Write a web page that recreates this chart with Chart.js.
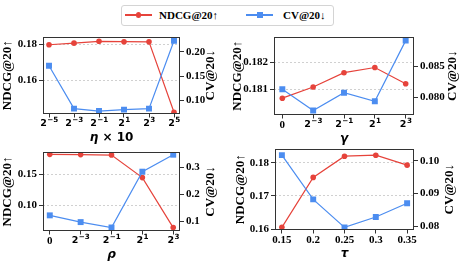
<!DOCTYPE html>
<html><head><meta charset="utf-8">
<script src="https://cdn.jsdelivr.net/npm/chart.js@4"></script>
<style>
html,body{margin:0;padding:0;background:#fff;}
#wrap{position:relative;width:463px;height:265px;overflow:hidden;background:#fff;}
canvas{position:absolute;}
.lg{position:absolute;}
#legend{left:121px;top:5px;width:213px;height:21px;border:1px solid #d4d4d4;border-radius:3px;box-sizing:border-box;}
.lt{font:bold 11px "Liberation Serif",serif;color:#000;line-height:20px;top:5px;height:20px;white-space:nowrap;}
</style></head><body>
<div id="wrap">
<canvas id="c1"></canvas>
<canvas id="c2"></canvas>
<canvas id="c3"></canvas>
<canvas id="c4"></canvas>
<div id="legend" class="lg"></div>
<div class="lg" style="left:125px;top:14.4px;width:27px;height:1.3px;background:#e6433b"></div>
<div class="lg" style="left:135.5px;top:12px;width:5.6px;height:5.6px;border-radius:50%;background:#e6433b"></div>
<div class="lg lt" style="left:159px">NDCG@20↑</div>
<div class="lg" style="left:246px;top:14.4px;width:27px;height:1.3px;background:#4c8df0"></div>
<div class="lg" style="left:257px;top:12px;width:6px;height:6px;background:#4c8df0"></div>
<div class="lg lt" style="left:283px">CV@20↓</div>
</div>
<script>
const RED = '#e6433b', BLUE = '#4c8df0';

// ---- Panel 1: eta x 10 ----
const etaLabels = ['2^-5','2^-3','2^-1','2^1','2^3','2^5'];
const etaNdcg = [0.1796, 0.1805, 0.1815, 0.1813, 0.1812, 0.1425];
const etaCv = [0.171, 0.083, 0.078, 0.081, 0.083, 0.2225];
const etaLeftTicks = [0.16, 0.18], etaLeftTickLabels = ['0.16','0.18'];
const etaRightTicks = [0.10, 0.15, 0.20], etaRightTickLabels = ['0.10','0.15','0.20'];

// ---- Panel 2: gamma ----
const gammaLabels = ['0','2^-3','2^-1','2^1','2^3'];
const gammaNdcg = [0.18068, 0.18109, 0.18162, 0.18181, 0.18121];
const gammaCv = [0.08135, 0.0779, 0.08077, 0.07938, 0.0892];
const gammaLeftTicks = [0.181, 0.182], gammaLeftTickLabels = ['0.181','0.182'];
const gammaRightTicks = [0.080, 0.085], gammaRightTickLabels = ['0.080','0.085'];

// ---- Panel 3: rho ----
const rhoLabels = ['0','2^-3','2^-1','2^1','2^3'];
const rhoNdcg = [0.1827, 0.1823, 0.1816, 0.1452, 0.0645];
const rhoCv = [0.122, 0.097, 0.077, 0.284, 0.347];
const rhoLeftTicks = [0.10, 0.15], rhoLeftTickLabels = ['0.10','0.15'];
const rhoRightTicks = [0.1, 0.2, 0.3], rhoRightTickLabels = ['0.1','0.2','0.3'];

// ---- Panel 4: tau ----
const tauValues = [0.15, 0.2, 0.25, 0.3, 0.35];
const tauLabels = ['0.15','0.2','0.25','0.3','0.35'];
const tauNdcg = [0.1605, 0.1756, 0.1820, 0.1823, 0.1793];
const tauCv = [0.1018, 0.0882, 0.0796, 0.0828, 0.0870];
const tauLeftTicks = [0.16, 0.17, 0.18], tauLeftTickLabels = ['0.16','0.17','0.18'];
const tauRightTicks = [0.08, 0.09, 0.10], tauRightTickLabels = ['0.08','0.09','0.10'];

const TICKFONT = {family:'"Liberation Serif", serif', size:11, weight:'bold'};
const BASEF = 'bold 9.5px "DejaVu Sans", sans-serif';
const EXPF = 'bold 7.2px "DejaVu Sans", sans-serif';
const PLAINF = 'bold 11px "Liberation Serif", serif';

const deco = {
  id: 'deco',
  afterDraw(chart, args, o) {
    const {ctx, chartArea: a} = chart;
    ctx.save();
    ctx.strokeStyle = '#333'; ctx.lineWidth = 1;
    ctx.strokeRect(Math.round(a.left) + 0.5, Math.round(a.top) + 0.5,
                   Math.round(a.right) - Math.round(a.left) - 1, Math.round(a.bottom) - Math.round(a.top) - 1);
    ctx.fillStyle = '#000';
    // x tick labels (with superscripts) at the library's tick positions
    const xs = chart.scales.x;
    ctx.textBaseline = 'alphabetic'; ctx.textAlign = 'left';
    xs.ticks.forEach((t, i) => {
      const lab = o.xl[i];
      const px = xs.getPixelForValue(t.value);
      if (lab.startsWith('2^')) {
        const base = '2', ex = lab.slice(2).replace('-', '−');
        ctx.font = BASEF; const wb = ctx.measureText(base).width;
        ctx.font = EXPF; const we = ctx.measureText(ex).width;
        const x0 = px - (wb + we) / 2, by = a.bottom + 12;
        ctx.font = BASEF; ctx.fillText(base, x0, by);
        ctx.font = EXPF; ctx.fillText(ex, x0 + wb + 0.4, by - 4.4);
      } else {
        ctx.font = PLAINF; const w = ctx.measureText(lab).width;
        ctx.fillText(lab, px - w / 2, a.bottom + 13);
      }
    });
    ctx.font = 'bold 13px "Liberation Serif", serif';
    ctx.textAlign = 'center'; ctx.textBaseline = 'middle';
    const cy = (a.top + a.bottom) / 2;
    ctx.save(); ctx.translate(a.left + o.dl, cy); ctx.rotate(-Math.PI/2); ctx.fillText('NDCG@20↑', 0, 0); ctx.restore();
    ctx.save(); ctx.translate(a.right + o.dr, cy); ctx.rotate(-Math.PI/2); ctx.fillText('CV@20↓', 0, 0); ctx.restore();
    // x title segments
    ctx.textBaseline = 'alphabetic'; ctx.textAlign = 'left';
    const segs = o.xt;
    let w = 0;
    segs.forEach(s => { ctx.font = (s.i ? 'italic ' : '') + 'bold 12px "DejaVu Sans", sans-serif'; s.w = ctx.measureText(s.t).width; w += s.w; });
    let x = (a.left + a.right) / 2 - w / 2;
    segs.forEach(s => { ctx.font = (s.i ? 'italic ' : '') + 'bold 12px "DejaVu Sans", sans-serif'; ctx.fillText(s.t, x, a.bottom + 27); x += s.w; });
    ctx.restore();
  }
};

function panel(id, cv, plot, xs, xLabels, xMin, xMax, ndcg, cvv, lMin, lMax, lT, lTL, rMin, rMax, rT, rTL, xt, dl, dr) {
  const c = document.getElementById(id);
  c.width = cv.w; c.height = cv.h;
  c.style.left = cv.l + 'px'; c.style.top = cv.t + 'px';
  c.style.width = cv.w + 'px'; c.style.height = cv.h + 'px';
  const leftW = plot.L - cv.l, rightW = cv.l + cv.w - plot.R, botH = cv.t + cv.h - plot.B, topP = plot.T - cv.t;
  new Chart(c, {
    type: 'line',
    data: {
      datasets: [
        {label:'NDCG@20↑', yAxisID:'y', order:2, data: xs.map((x,i)=>({x, y: ndcg[i]})),
         borderColor:RED, backgroundColor:RED, borderWidth:1.2, pointRadius:2.8, pointHoverRadius:2.8,
         pointBorderWidth:0, pointBackgroundColor:RED, pointStyle:'circle', tension:0, fill:false},
        {label:'CV@20↓', yAxisID:'y1', order:1, data: xs.map((x,i)=>({x, y: cvv[i]})),
         borderColor:BLUE, backgroundColor:BLUE, borderWidth:1.2, pointRadius:4.2, pointHoverRadius:4.2,
         pointBorderWidth:0, pointBackgroundColor:BLUE, pointStyle:'rect', tension:0, fill:false}
      ]
    },
    options: {
      responsive:false, animation:false, devicePixelRatio:1,
      layout:{padding:{top:topP, left:0, right:0, bottom:0}, autoPadding:false},
      plugins:{legend:{display:false}, tooltip:{enabled:false}, deco:{xt, dl, dr, xl:xLabels}},
      scales: {
        x: {type:'linear', min:xMin, max:xMax,
            afterBuildTicks: s => { s.ticks = xs.map(v => ({value:v})); },
            afterFit: s => { s.height = botH; },
            ticks:{callback:() => '', font:TICKFONT, color:'#000', padding:1, maxRotation:0, autoSkip:false},
            grid:{drawOnChartArea:false, drawTicks:true, tickLength:3.5, tickColor:'#333', tickWidth:1},
            border:{display:false}},
        y: {position:'left', min:lMin, max:lMax,
            afterBuildTicks: s => { s.ticks = lT.map(v => ({value:v})); },
            afterFit: s => { s.width = leftW; },
            ticks:{callback:(v,i)=>lTL[i], font:TICKFONT, color:'#000', padding:2, autoSkip:false},
            grid:{drawOnChartArea:true, color:'#c4c4c4', lineWidth:0.8, borderDash:[2,2], tickLength:4, tickColor:'#333', tickWidth:1, tickBorderDash:[]},
            border:{display:false, dash:[2,2]}},
        y1: {position:'right', min:rMin, max:rMax,
            afterBuildTicks: s => { s.ticks = rT.map(v => ({value:v})); },
            afterFit: s => { s.width = rightW; },
            ticks:{callback:(v,i)=>rTL[i], font:TICKFONT, color:'#000', padding:2, autoSkip:false},
            grid:{drawOnChartArea:false, tickLength:4, tickColor:'#333', tickWidth:1},
            border:{display:false}}
      }
    },
    plugins:[deco]
  });
}

const idx = n => Array.from({length:n}, (_, i) => i);

panel('c1', {l:0,t:28,w:231,h:120}, {L:43,R:180,T:33,B:114},
  idx(6), etaLabels, -0.24, 5.24, etaNdcg, etaCv,
  0.1415, 0.1841, etaLeftTicks, etaLeftTickLabels,
  0.072, 0.231, etaRightTicks, etaRightTickLabels,
  [{t:'η',i:true},{t:' × 10',i:false}], -35, 31);

panel('c2', {l:231,t:28,w:232,h:120}, {L:274,R:414,T:33,B:115},
  idx(5), gammaLabels, -0.27, 4.27, gammaNdcg, gammaCv,
  0.18006, 0.18295, gammaLeftTicks, gammaLeftTickLabels,
  0.07717, 0.08985, gammaRightTicks, gammaRightTickLabels,
  [{t:'γ',i:true}], -36.5, 38.5);

panel('c3', {l:0,t:140,w:231,h:125}, {L:43,R:180,T:152,B:231},
  idx(5), rhoLabels, -0.22, 4.22, rhoNdcg, rhoCv,
  0.059, 0.1865, rhoLeftTicks, rhoLeftTickLabels,
  0.064, 0.357, rhoRightTicks, rhoRightTickLabels,
  [{t:'ρ',i:true}], -35, 30.5);

panel('c4', {l:231,t:140,w:232,h:125}, {L:275,R:414,T:147,B:230},
  tauValues, tauLabels, 0.139, 0.361, tauNdcg, tauCv,
  0.1597, 0.1843, tauLeftTicks, tauLeftTickLabels,
  0.0788, 0.1038, tauRightTicks, tauRightTickLabels,
  [{t:'τ',i:true}], -34.5, 35.5);
</script>
</body></html>
